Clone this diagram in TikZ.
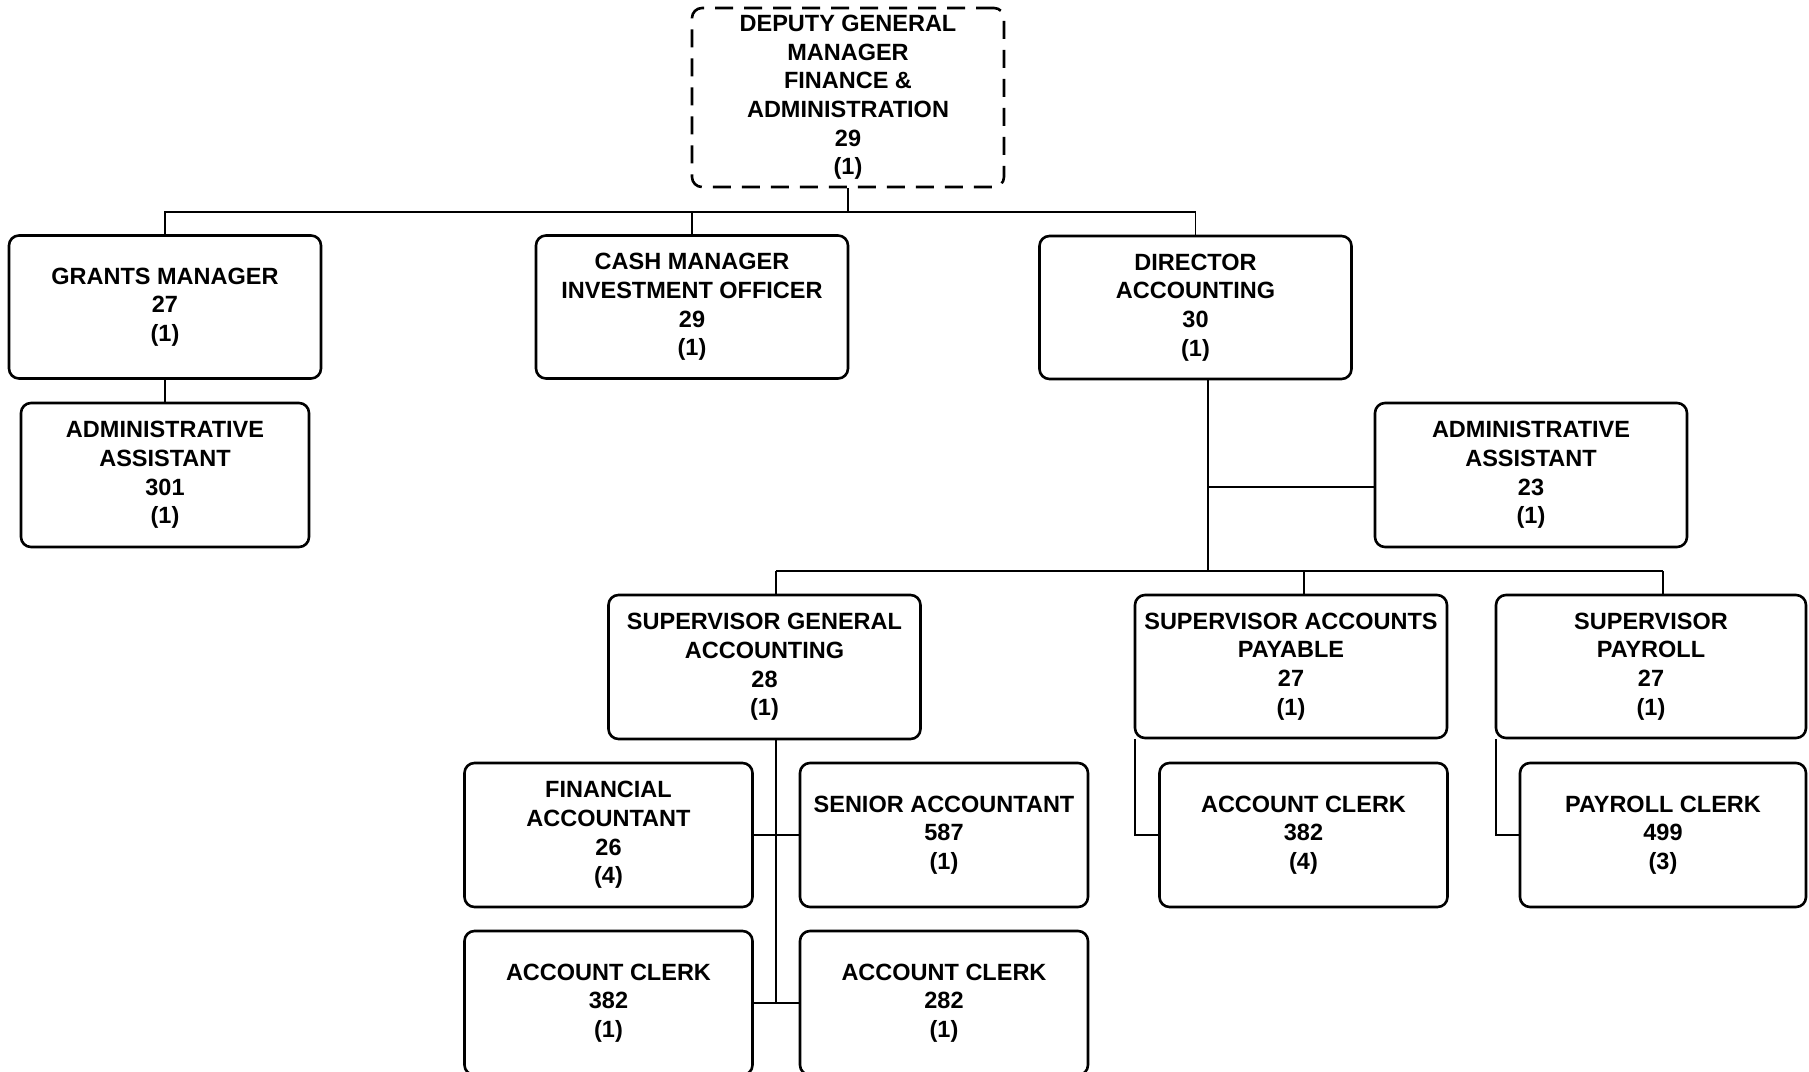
\documentclass[tikz,border=0pt]{standalone}
\usepackage{fontspec}
\setmainfont{Liberation Sans}
\begin{document}
\begin{tikzpicture}[x=1pt,y=-1pt,
  box/.style={draw, line width=2.6pt, rounded corners=10pt, align=center,
    inner sep=0pt, minimum width=312pt, minimum height=143pt,
    font=\fontsize{23.5}{28.6}\selectfont\bfseries},
  narrow/.style={minimum width=288pt},
  dashedbox/.style={dash pattern=on 18pt off 11pt},
  link/.style={line width=1.6pt}]
\useasboundingbox (0,0) rectangle (1809,1071);
\clip (0,0) rectangle (1809,1071);

% top level
\node[box, dashedbox, minimum height=179pt] (dgm) at (848,97.5)
  {DEPUTY GENERAL\\MANAGER\\FINANCE \&\\ADMINISTRATION\\29\\(1)};

% second level
\node[box] (grants) at (165,307) {GRANTS MANAGER\\27\\(1)};
\node[box] (cash) at (692,307) {CASH MANAGER\\INVESTMENT OFFICER\\29\\(1)};
\node[box] (dir) at (1195.5,307.5) {DIRECTOR\\ACCOUNTING\\30\\(1)};

% assistants
\node[box, narrow, minimum height=144pt] (aa301) at (165,475) {ADMINISTRATIVE\\ASSISTANT\\301\\(1)};
\node[box, minimum height=144pt] (aa23) at (1531,475) {ADMINISTRATIVE\\ASSISTANT\\23\\(1)};

% supervisors
\node[box, minimum height=144pt] (sga) at (764.5,667) {SUPERVISOR GENERAL\\ACCOUNTING\\28\\(1)};
\node[box] (sap) at (1291,666.5) {SUPERVISOR ACCOUNTS\\PAYABLE\\27\\(1)};
\node[box, minimum width=310pt] (spay) at (1651,666.5) {SUPERVISOR\\PAYROLL\\27\\(1)};

% staff
\node[box, narrow, minimum height=144pt] (fa) at (608.5,835) {FINANCIAL\\ACCOUNTANT\\26\\(4)};
\node[box, narrow, minimum height=144pt] (sa) at (944,835) {SENIOR ACCOUNTANT\\587\\(1)};
\node[box, narrow, minimum height=144pt] (ac1) at (608.5,1003) {ACCOUNT CLERK\\382\\(1)};
\node[box, narrow, minimum height=144pt] (ac2) at (944,1003) {ACCOUNT CLERK\\282\\(1)};
\node[box, narrow, minimum height=144pt] (ac3) at (1303.5,835) {ACCOUNT CLERK\\382\\(4)};
\node[box, narrow, minimum width=286pt, minimum height=144pt] (pc) at (1663,835) {PAYROLL CLERK\\499\\(3)};

% connector junctions
\coordinate (topbus) at (848,212);
\coordinate (dirtap) at (1208,380);
\coordinate (aajoin) at (1208,487);
\coordinate (midbus) at (1208,571);
\coordinate (sgatap) at (776,571);
\coordinate (saptap) at (1304,571);
\coordinate (spaytap) at (1663,571);
\coordinate (sgaout) at (776,739);
\coordinate (sgaend) at (776,1002);

% connectors
\draw[link] (dgm.south) -- (topbus);
\draw[link] (grants.north) -- (grants.north |- topbus) -- (dir.north |- topbus) -- (dir.north);
\draw[link] (cash.north) -- (cash.north |- topbus);
\draw[link] (grants.south) -- (aa301.north);
\draw[link] (dirtap) -- (midbus);
\draw[link] (aajoin) -- (aajoin -| aa23.west);
\draw[link] (sgatap) -- (spaytap);
\draw[link] (sgatap) -- (sgatap |- sga.north);
\draw[link] (saptap) -- (saptap |- sap.north);
\draw[link] (spaytap) -- (spaytap |- spay.north);
\draw[link] (sgaout) -- (sgaend);
\draw[link] (fa.east) -- (sa.west);
\draw[link] (ac1.east) -- (ac2.west);
\draw[link] ([xshift=1pt]sap.south west) |- (ac3.west);
\draw[link] ([xshift=1pt]spay.south west) |- (pc.west);
\end{tikzpicture}
\end{document}
